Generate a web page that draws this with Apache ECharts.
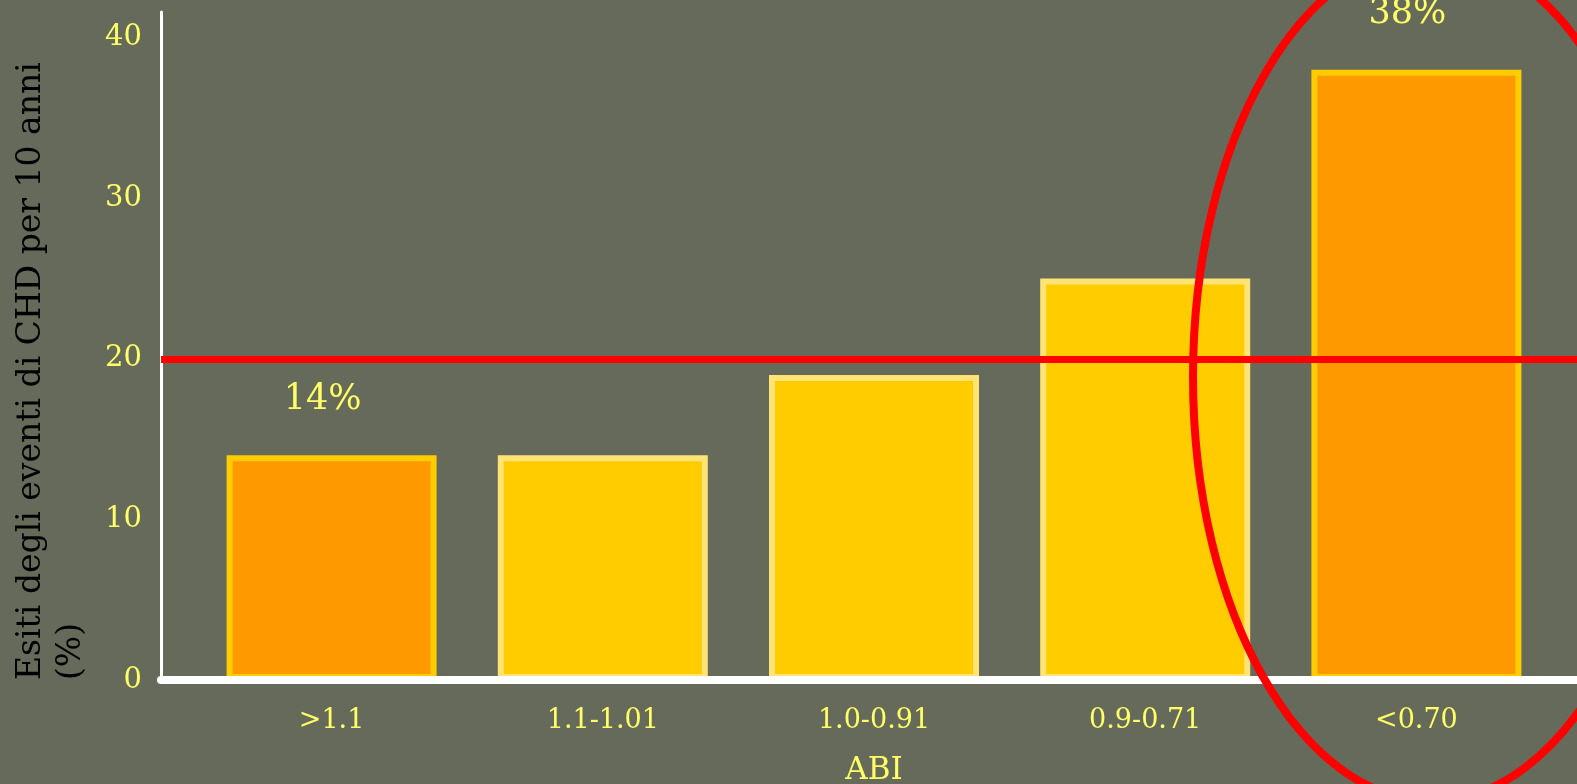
<!DOCTYPE html>
<html>
<head>
<meta charset="utf-8">
<title>ABI – eventi CHD a 10 anni</title>
<script src="https://cdn.jsdelivr.net/npm/echarts@6/dist/echarts.min.js"></script>
<style>
  html, body { margin: 0; padding: 0; background: #666a5a; }
  #chart { width: 1577px; height: 784px; }
</style>
</head>
<body>
<div id="chart"></div>
<script>
// ABI classes on the category axis
const categories = ['>1.1', '1.1-1.01', '1.0-0.91', '0.9-0.71', '<0.70'];
// 10-year CHD event rate (%) for each class
const eventRates = [14, 14, 19, 25, 38];
// classes printed with their percentage and drawn in orange
const highlighted = [true, false, false, false, true];
// value axis: ticks every 10 from 0 to 40
const tickStep = 10;
const axisTop = 41.6;
// reference risk threshold (%)
const threshold = 20;

const FONT = 'DejaVu Serif';
const YELLOW = '#ffff66';

const chart = echarts.init(document.getElementById('chart'), null, { renderer: 'canvas' });

const barData = eventRates.map((v, i) => ({
  value: v,
  itemStyle: highlighted[i]
    ? { color: '#ff9900', borderColor: '#ffcc00' }
    : { color: '#ffcc00', borderColor: '#ffe375' },
  label: {
    show: highlighted[i],
    position: 'top',
    distance: 38,
    offset: [-9, 0],
    formatter: '{c}%',
    color: YELLOW,
    fontFamily: FONT,
    fontSize: 35
  }
}));

chart.setOption({
  backgroundColor: '#666a5a',
  animation: false,
  grid: [
    // frame grid: axis lines, tick labels, threshold line
    { left: 161, right: 0, top: 12, bottom: 104, outerBoundsMode: 'none', containLabel: false },
    // bar grid
    { left: 196, right: 25, top: 12, bottom: 104, outerBoundsMode: 'none', containLabel: false }
  ],
  xAxis: [
    {
      gridIndex: 0, type: 'value', min: 0, max: 1, z: 3,
      axisLine: { show: true, onZero: false, lineStyle: { color: '#ffffff', width: 8 } },
      axisTick: { show: false }, axisLabel: { show: false }, splitLine: { show: false }
    },
    {
      gridIndex: 1, type: 'category', data: categories,
      axisLine: { show: false }, axisTick: { show: false }, splitLine: { show: false },
      axisLabel: { color: YELLOW, fontFamily: FONT, fontSize: 27, margin: 27 },
      name: 'ABI', nameLocation: 'middle', nameGap: 75,
      nameTextStyle: { color: YELLOW, fontFamily: FONT, fontSize: 31 }
    }
  ],
  yAxis: [
    {
      gridIndex: 0, type: 'value', min: 0, max: axisTop, interval: tickStep,
      axisLine: { show: true, lineStyle: { color: '#ffffff', width: 3 } },
      axisTick: { show: false }, splitLine: { show: false },
      axisLabel: { color: YELLOW, fontFamily: FONT, fontSize: 29, margin: 19, showMaxLabel: false }
    },
    {
      gridIndex: 1, type: 'value', min: 0, max: axisTop, interval: tickStep,
      show: false, splitLine: { show: false }
    }
  ],
  series: [
    {
      type: 'bar',
      xAxisIndex: 1, yAxisIndex: 1,
      barWidth: 210,
      z: 2,
      itemStyle: { borderWidth: 6 },
      data: barData
    },
    {
      // carries the horizontal threshold line across the full frame
      type: 'line',
      xAxisIndex: 0, yAxisIndex: 0,
      data: [],
      z: 4,
      silent: true,
      markLine: {
        silent: true,
        symbol: 'none',
        label: { show: false },
        lineStyle: { color: '#ff0000', width: 7, type: 'solid' },
        data: [{ yAxis: threshold }]
      }
    }
  ],
  graphic: [
    {
      type: 'text',
      x: 11, y: 680,
      rotation: Math.PI / 2,
      z: 10,
      style: {
        text: 'Esiti degli eventi di CHD per 10 anni\n(%)',
        fill: '#000000',
        font: '33px "DejaVu Serif"',
        lineHeight: 40,
        align: 'left',
        verticalAlign: 'top'
      }
    },
    {
      // ring drawn around the last class
      type: 'ellipse',
      z: 100,
      silent: true,
      shape: { cx: 1432, cy: 377, rx: 239, ry: 424 },
      style: { fill: 'none', stroke: '#ff0000', lineWidth: 8 }
    }
  ]
});
</script>
</body>
</html>
